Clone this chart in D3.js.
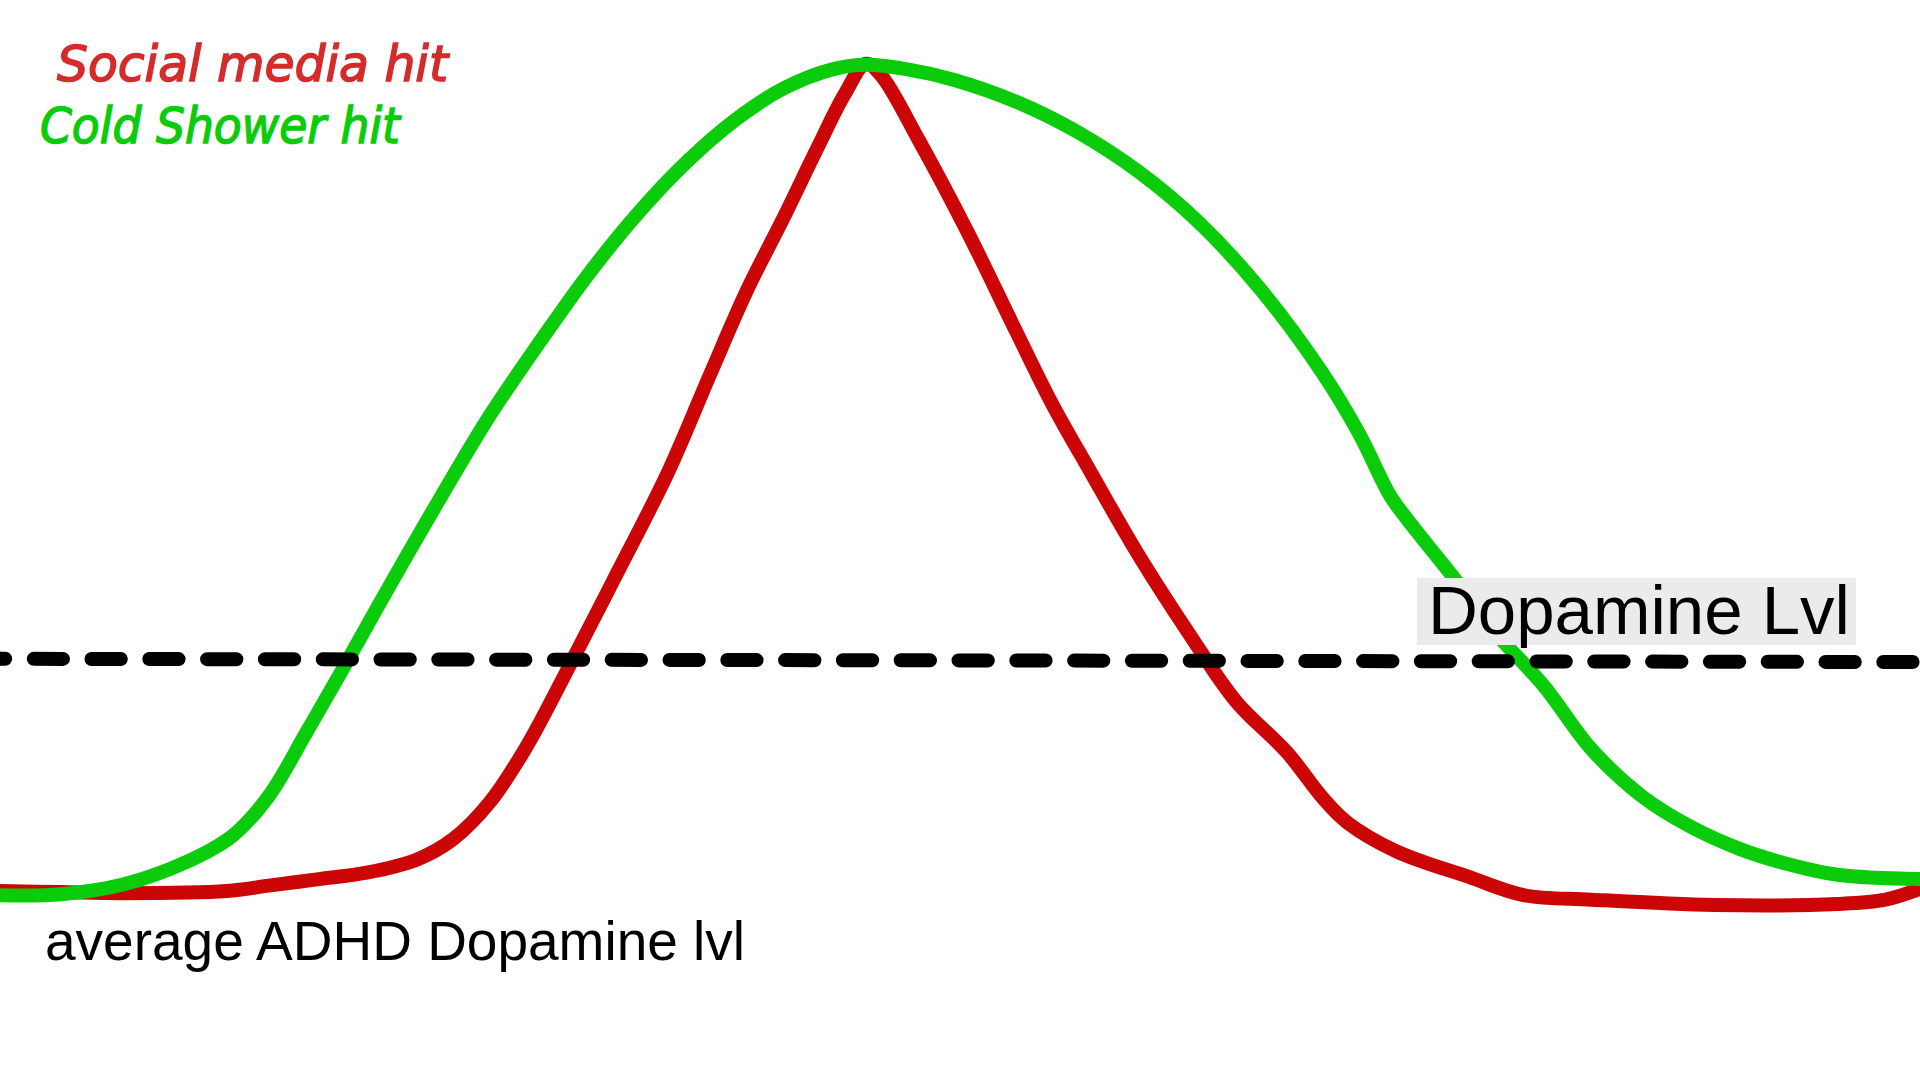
<!DOCTYPE html>
<html>
<head>
<meta charset="utf-8">
<script src="https://cdn.jsdelivr.net/npm/d3@7"></script>
<style>
html,body{margin:0;padding:0;background:#fff;overflow:hidden;}
svg{display:block;}
</style>
</head>
<body>
<svg id="chart" width="1920" height="1080"></svg>
<script>
// time (0-100) and dopamine level (0-100, bottom of frame = 0)
const socialTime  = [0,3.2,6.4,11.8,14.0,16.6,19.1,21.7,23.6,25.5,27.4,29.3,31.9,34.8,37.0,38.9,40.8,42.6,44.0,45.1,45.9,47.8,50.4,52.9,54.8,56.8,59.3,61.9,64.4,67.0,68.9,70.2,72.7,76.5,79.4,82.9,89.3,95.7,98.2,100];
const socialLevel = [17.5,17.4,17.3,17.5,18.0,18.6,19.2,20.4,22.3,25.7,30.8,37.1,46.1,56.3,65.4,73.1,79.8,86.4,91.3,94.1,93.0,87.2,78.5,69.4,62.6,56.3,48.6,41.4,35.0,30.4,26.1,23.8,21.2,18.8,17.1,16.7,16.2,16.3,16.7,17.7];
const coldTime    = [0,3.2,6.4,9.6,12.1,14.0,15.9,17.9,20.4,23.0,25.5,28.1,30.6,33.2,35.7,38.3,40.8,43.4,45.1,47.2,49.7,52.9,56.1,59.3,62.5,65.7,68.9,70.8,72.4,73.3,75.9,78.1,80.4,82.9,85.5,88.0,90.6,93.1,95.7,100];
const coldLevel   = [17.1,17.2,18.1,20.1,22.6,26.3,32.0,38.2,46.1,54.1,61.5,68.3,74.5,80.2,84.9,88.9,91.8,93.6,94.0,93.6,92.6,90.6,87.8,84.1,79.3,73.1,65.4,59.8,54.1,51.9,46.1,41.0,36.5,30.6,26.3,23.5,21.4,20.0,19.0,18.6];
const avgTime     = [0,100];
const avgLevel    = [39.0,38.7];
const legendLabels = ["Social media hit","Cold Shower hit"];
const avgLabel = "average ADHD Dopamine lvl";
const axisLabel = "Dopamine Lvl";

const W = 1920, H = 1080;
const svg = d3.select("#chart");
const x = d3.scaleLinear().domain([0,100]).range([0,W]);
const y = d3.scaleLinear().domain([0,100]).range([H,0]);

const line = d3.line().x(d=>x(d[0])).y(d=>y(d[1])).curve(d3.curveCatmullRom.alpha(0.5));
const social = d3.zip(socialTime, socialLevel);
const cold = d3.zip(coldTime, coldLevel);
const avg = d3.zip(avgTime, avgLevel);

svg.append("path").datum(social).attr("d", line)
  .attr("fill","none").attr("stroke","#cc0606").attr("stroke-width",14)
  .attr("stroke-linejoin","round").attr("stroke-linecap","round");
svg.append("path").datum(cold).attr("d", line)
  .attr("fill","none").attr("stroke","#0acc0a").attr("stroke-width",14)
  .attr("stroke-linejoin","round").attr("stroke-linecap","round");
svg.append("path").datum(avg).attr("d", d3.line().x(d=>x(d[0])).y(d=>y(d[1])))
  .attr("fill","none").attr("stroke","#000").attr("stroke-width",14)
  .attr("stroke-linecap","round").attr("stroke-dasharray","29.3,28.5")
  .attr("stroke-dashoffset",24.1);

// "Dopamine Lvl" label with grey box
const lbl = svg.append("g");
lbl.append("rect").attr("x",1417).attr("y",578).attr("width",439).attr("height",67).attr("fill","#ebebeb");
lbl.append("text").attr("x",1428).attr("y",634)
  .attr("font-family","'Liberation Sans', Arial, sans-serif").attr("font-size",69)
  .attr("fill","#000").text(axisLabel);

svg.append("text").attr("x",45).attr("y",960)
  .attr("font-family","'Liberation Sans', Arial, sans-serif").attr("font-size",55)
  .attr("fill","#000").text(avgLabel);

// handwritten-style legend
const legendColors = ["#d42b2b","#0bcc0b"];
const legendPos = [[57,81,391],[40,143,360]];
svg.selectAll(".leg").data(legendLabels).enter().append("text")
  .attr("class","leg")
  .attr("x",(d,i)=>legendPos[i][0]).attr("y",(d,i)=>legendPos[i][1])
  .attr("textLength",(d,i)=>legendPos[i][2]).attr("lengthAdjust","spacingAndGlyphs")
  .attr("font-family","'DejaVu Sans', sans-serif").attr("font-style","italic")
  .attr("font-size",50)
  .attr("fill",(d,i)=>legendColors[i]).attr("stroke",(d,i)=>legendColors[i]).attr("stroke-width",1.5)
  .text(d=>d);
</script>
</body>
</html>
